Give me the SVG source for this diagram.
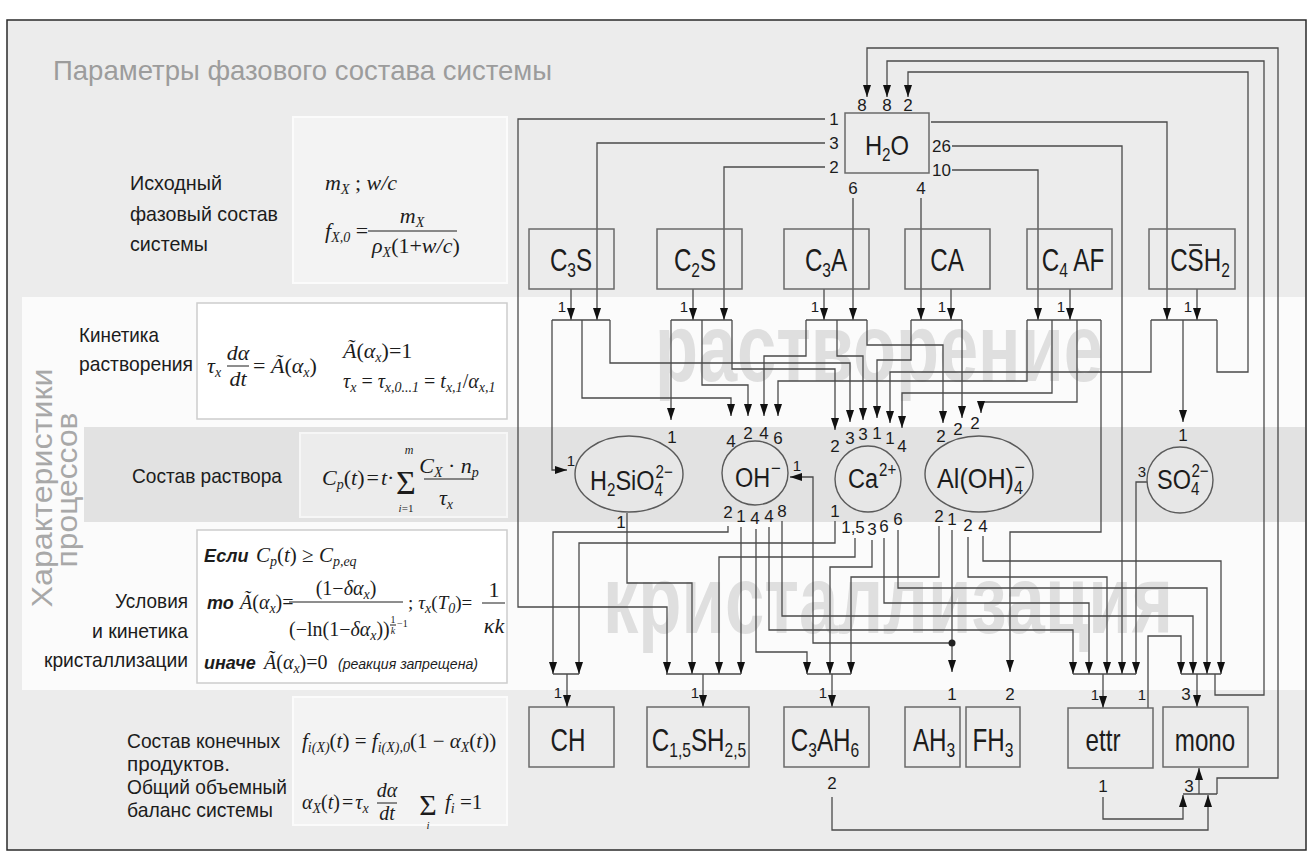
<svg xmlns="http://www.w3.org/2000/svg" width="1314" height="863" viewBox="0 0 1314 863">
<defs>
<style>
.t{font-family:"Liberation Sans",Arial,sans-serif;fill:#1c1c1c}
.nd{font-size:31px}
.sb{font-size:20px}
.pn{font-size:17px;text-anchor:middle}
.ps{font-size:15px;text-anchor:middle}
.lb{font-size:21px}
.gr{fill:#9c9c9c}
.fm{font-family:"Liberation Serif","Times New Roman",serif;font-style:italic;font-size:22px;fill:#1c1c1c}
.up{font-style:normal}
.fs{font-size:14px}
.bi{font-family:"Liberation Sans",Arial,sans-serif;font-weight:bold;font-style:italic;font-size:18px;fill:#1c1c1c}
.bx{fill:none;stroke:#6a6a6a;stroke-width:1.5}
.el{fill:#e7e7e7;stroke:#5a5a5a;stroke-width:1.4}
.ln{fill:none;stroke:#4a4a4a;stroke-width:1.3}
.ar{marker-end:url(#ah)}
.wm{font-family:"Liberation Sans",Arial,sans-serif;font-size:96px;font-weight:bold;fill:#dfdfdf}
.fl{stroke:#1c1c1c;stroke-width:1}
.fb1{fill:#f3f3f3;stroke:#fbfbfb;stroke-width:2}
.fb2{fill:#ffffff;stroke:#cdcdcd;stroke-width:1.5}
.fb3{fill:#ececec;stroke:#f6f6f6;stroke-width:2}
</style>
<marker id="ah" viewBox="0 0 12 8" refX="12" refY="4" markerWidth="12" markerHeight="8" markerUnits="userSpaceOnUse" orient="auto"><path d="M0,0L12,4L0,8z" fill="#111"/></marker>
</defs>

<rect width="1314" height="863" fill="#ffffff"/>
<rect x="7" y="20" width="1299" height="830" fill="#ececec" stroke="#2a2a2a" stroke-width="1.5"/>
<rect x="22" y="297" width="1283" height="393" fill="#fbfbfb"/>
<rect x="84" y="427" width="1221" height="95" fill="#e2e2e2"/>

<!-- watermarks -->
<text class="wm" x="655" y="381" textLength="448" lengthAdjust="spacingAndGlyphs">растворение</text>
<text class="wm" x="603" y="633" textLength="570" lengthAdjust="spacingAndGlyphs">кристаллизация</text>

<!-- title and side captions -->
<text class="t gr" x="53" y="80" font-size="28" textLength="499" lengthAdjust="spacingAndGlyphs">Параметры  фазового состава  системы</text>
<text class="t" style="fill:#a8a8a8" font-size="30" text-anchor="middle" transform="translate(52,488) rotate(-90)" textLength="239" lengthAdjust="spacingAndGlyphs">Характеристики</text>
<text class="t" style="fill:#a8a8a8" font-size="30" text-anchor="middle" transform="translate(77,490) rotate(-90)" textLength="155" lengthAdjust="spacingAndGlyphs">процессов</text>

<g id="labels-left">
<text class="t lb" x="130" y="190" textLength="92" lengthAdjust="spacingAndGlyphs">Исходный</text>
<text class="t lb" x="130" y="221" textLength="148" lengthAdjust="spacingAndGlyphs">фазовый состав</text>
<text class="t lb" x="130" y="251" textLength="78" lengthAdjust="spacingAndGlyphs">системы</text>
<text class="t lb" x="79" y="342" textLength="80" lengthAdjust="spacingAndGlyphs">Кинетика</text>
<text class="t lb" x="79" y="371" textLength="114" lengthAdjust="spacingAndGlyphs">растворения</text>
<text class="t lb" x="132" y="483" textLength="150" lengthAdjust="spacingAndGlyphs">Состав раствора</text>
<text class="t lb" x="115" y="608" textLength="73" lengthAdjust="spacingAndGlyphs">Условия</text>
<text class="t lb" x="92" y="638" textLength="96" lengthAdjust="spacingAndGlyphs">и кинетика</text>
<text class="t lb" x="44" y="667" textLength="144" lengthAdjust="spacingAndGlyphs">кристаллизации</text>
<text class="t lb" x="127" y="748" textLength="153" lengthAdjust="spacingAndGlyphs">Состав конечных</text>
<text class="t lb" x="127" y="771" textLength="103" lengthAdjust="spacingAndGlyphs">продуктов.</text>
<text class="t lb" x="127" y="794" textLength="160" lengthAdjust="spacingAndGlyphs">Общий объемный</text>
<text class="t lb" x="127" y="817" textLength="146" lengthAdjust="spacingAndGlyphs">баланс системы</text>
</g>

<!-- formula boxes -->
<g id="formula-initial">
<rect class="fb1" x="293" y="117" width="214" height="166"/>
<text class="fm" x="325" y="190">m<tspan class="fs" dy="4">X</tspan><tspan class="up" dy="-4"> ;  </tspan>w/c</text>
<text class="fm" x="325" y="238">f<tspan class="fs" dy="4">X,0</tspan><tspan class="up" dy="-4"> =</tspan></text>
<text class="fm" x="412" y="223" text-anchor="middle">m<tspan class="fs" dy="4">X</tspan></text>
<line class="fl" x1="368" y1="231" x2="457" y2="231"/>
<text class="fm" x="372" y="253">ρ<tspan class="fs" dy="4">X</tspan><tspan class="up" dy="-4">(1+</tspan>w/c<tspan class="up">)</tspan></text>
</g>

<g id="formula-dissolution">
<rect class="fb2" x="197" y="303" width="310" height="116"/>
<text class="fm" x="207" y="373">τ<tspan class="fs" dy="4">x</tspan></text>
<text class="fm" x="238" y="360" text-anchor="middle">dα</text>
<line class="fl" x1="227" y1="366" x2="249" y2="366"/>
<text class="fm" x="238" y="386" text-anchor="middle">dt</text>
<text class="fm" x="253" y="373"><tspan class="up">= </tspan>Ã<tspan class="up">(</tspan>α<tspan class="fs" dy="4">x</tspan><tspan class="up" dy="-4">)</tspan></text>
<text class="fm" x="343" y="358">Ã<tspan class="up">(</tspan>α<tspan class="fs" dy="4">x</tspan><tspan class="up" dy="-4">)=1</tspan></text>
<text class="fm" x="343" y="388" style="font-size:20px">τ<tspan class="fs" dy="4">x</tspan><tspan class="up" dy="-4"> = </tspan>τ<tspan class="fs" dy="4">x,0...1</tspan><tspan class="up" dy="-4"> = </tspan>t<tspan class="fs" dy="4">x,1</tspan><tspan class="up" dy="-4">/</tspan>α<tspan class="fs" dy="4">x,1</tspan></text>
</g>

<g id="formula-solution">
<rect class="fb3" x="300" y="433" width="207" height="84"/>
<text class="fm" x="322" y="485">C<tspan class="fs" dy="4">p</tspan><tspan class="up" dy="-4">(</tspan>t<tspan class="up">)</tspan><tspan class="up" dx="2">=</tspan><tspan dx="2">t</tspan><tspan class="up">·</tspan></text>
<text class="fm" x="406" y="494" text-anchor="middle" style="font-size:34px;font-style:normal">Σ</text>
<text class="fm" x="409" y="454" text-anchor="middle" style="font-size:12px">m</text>
<text class="fm" x="406" y="512" text-anchor="middle" style="font-size:11px">i<tspan class="up">=1</tspan></text>
<text class="fm" x="449" y="473" text-anchor="middle">C<tspan class="fs" dy="4">X</tspan><tspan class="up" dy="-4"> · </tspan>n<tspan class="fs" dy="4">p</tspan></text>
<line class="fl" x1="424" y1="479" x2="474" y2="479"/>
<text class="fm" x="446" y="505" text-anchor="middle">τ<tspan class="fs" dy="4">x</tspan></text>
</g>

<g id="formula-crystallization">
<rect class="fb2" x="197" y="530" width="310" height="153"/>
<text class="bi" x="204" y="562">Если</text>
<text class="fm" x="256" y="562" style="font-size:21px">C<tspan class="fs" dy="4">p</tspan><tspan class="up" dy="-4">(</tspan>t<tspan class="up">) ≥ </tspan>C<tspan class="fs" dy="4">p,eq</tspan></text>
<text class="bi" x="207" y="609">то</text>
<text class="fm" x="240" y="609" style="font-size:20px">Ã<tspan class="up">(</tspan>α<tspan class="fs" dy="4">x</tspan><tspan class="up" dy="-4">)=</tspan></text>
<text class="fm" x="346" y="595" text-anchor="middle" style="font-size:20px"><tspan class="up">(1−</tspan>δα<tspan class="fs" dy="4">x</tspan><tspan class="up" dy="-4">)</tspan></text>
<line class="fl" x1="289" y1="602" x2="403" y2="602"/>
<text class="fm" x="289" y="636" style="font-size:20px"><tspan class="up">(−ln(1−</tspan>δα<tspan class="fs" dy="4">x</tspan><tspan class="up" dy="-4">))</tspan></text>
<text class="fm" x="393" y="623" text-anchor="middle" style="font-size:10px;font-style:normal">1</text>
<line class="fl" x1="390" y1="625" x2="396" y2="625"/>
<text class="fm" x="393" y="634" text-anchor="middle" style="font-size:10px">k</text>
<text class="fm" x="397" y="627" style="font-size:10px;font-style:normal">−1</text>
<text class="fm" x="408" y="609" style="font-size:19px"><tspan class="up">;</tspan><tspan dx="5">τ</tspan><tspan class="fs" dy="4">x</tspan><tspan class="up" dy="-4">(</tspan>T<tspan class="fs" dy="4">0</tspan><tspan class="up" dy="-4">)=</tspan></text>
<text class="fm" x="494" y="597" text-anchor="middle" style="font-style:normal">1</text>
<line class="fl" x1="482" y1="603" x2="505" y2="603"/>
<text class="fm" x="494" y="633" text-anchor="middle">κk</text>
<text class="bi" x="204" y="669">иначе</text>
<text class="fm" x="264" y="669" style="font-size:20px">Ã<tspan class="up">(</tspan>α<tspan class="fs" dy="4">x</tspan><tspan class="up" dy="-4">)=0</tspan></text>
<text class="t" x="338" y="669" style="font-size:15px;font-style:italic" textLength="140" lengthAdjust="spacingAndGlyphs">(реакция запрещена)</text>
</g>

<g id="formula-balance">
<rect class="fb1" x="293" y="697" width="214" height="128"/>
<text class="fm" x="302" y="748" style="font-size:21px">f<tspan class="fs" dy="4">i(X)</tspan><tspan class="up" dy="-4">(</tspan>t<tspan class="up">) = </tspan>f<tspan class="fs" dy="4">i(X),0</tspan><tspan class="up" dy="-4">(1 − </tspan>α<tspan class="fs" dy="4">X</tspan><tspan class="up" dy="-4">(</tspan>t<tspan class="up">))</tspan></text>
<text class="fm" x="302" y="809" style="font-size:20px">α<tspan class="fs" dy="4">X</tspan><tspan class="up" dy="-4">(</tspan>t<tspan class="up">)</tspan><tspan class="up" dx="2">=</tspan><tspan dx="2">τ</tspan><tspan class="fs" dy="4">x</tspan></text>
<text class="fm" x="387" y="797" text-anchor="middle" style="font-size:20px">dα</text>
<line class="fl" x1="377" y1="803" x2="397" y2="803"/>
<text class="fm" x="387" y="820" text-anchor="middle" style="font-size:20px">dt</text>
<text class="fm" x="428" y="815" text-anchor="middle" style="font-size:30px;font-style:normal">Σ</text>
<text class="fm" x="428" y="829" text-anchor="middle" style="font-size:11px">i</text>
<text class="fm" x="445" y="809" style="font-size:21px">f<tspan class="fs" dy="4">i</tspan><tspan class="up" dy="-4"> =1</tspan></text>
</g>

<!-- connectors -->
<g id="connectors">
<g class="ln ar">
<path d="M825,119H518V607H667V674"/>
<path d="M825,143H597V320"/>
<path d="M825,167H724V320"/>
<path d="M853,198V320"/>
<path d="M921,198V320"/>
<path d="M952,146H1122V674"/>
<path d="M952,170H1038V320"/>
<path d="M931,122H1167V320"/>
<path d="M571,289V320"/>
<path d="M693,289V320"/>
<path d="M824,289V320"/>
<path d="M951,289V320"/>
<path d="M1070,289V320"/>
<path d="M1197,289V320"/>
<path d="M552,320V470H567"/>
<path d="M582,320V398H731V416"/>
<path d="M610,320V363H850V422"/>
<path d="M671,320V420"/>
<path d="M702,320V385H748V416"/>
<path d="M732,320V369H835V430"/>
<path d="M806,320V356H764V416"/>
<path d="M837,320V356H863V420"/>
<path d="M867,320V345H943V423"/>
<path d="M911,320V360H877V418"/>
<path d="M962,320V418"/>
<path d="M1027,320V381H778V416"/>
<path d="M1052,320V393H902V428"/>
<path d="M1077,320V402H981V413"/>
<path d="M1101,320V532H1010V672"/>
<path d="M1151,320V372H890V423"/>
<path d="M1183,320V422"/>
<path d="M1217,320V372H1248V72H908V97"/>
<path d="M627,513V583H692V674"/>
<path d="M728,526V532H553V674"/>
<path d="M741,527V674"/>
<path d="M756,529V652H807V674"/>
<path d="M769,527V630H1073V674"/>
<path d="M782,521V616H1193V674"/>
<path d="M835,521V543H579V674"/>
<path d="M855,538V557H719V674"/>
<path d="M872,540V567H830V674"/>
<path d="M884,538V603H1089V674"/>
<path d="M898,530V588H1207V674"/>
<path d="M939,526V577H851V674"/>
<path d="M952,530V672"/>
<path d="M952,643H813V477H790"/>
<path d="M968,537V577H1107V674"/>
<path d="M983,536V561H1221V674"/>
<path d="M1147,482H1136V674"/>
<path d="M1148,708V636H1181V674"/>
<path d="M567,674V707"/>
<path d="M703,674V707"/>
<path d="M832,674V707"/>
<path d="M1103,674V708"/>
<path d="M1197,674V707"/>
<path d="M1215,674V695H1264V61H887V97"/>
<path d="M832,797V830H1208V795"/>
<path d="M1103,797V819H1183V795"/>
<path d="M1217,794V778H1278V48H867V97"/>
<path d="M1199,794V768"/>
</g>
<g class="ln">
<path d="M552,320H610M671,320H732M806,320H867M911,320H962M1027,320H1101M1151,320H1217"/>
<path d="M553,674H579M666,674H741M807,674H851M1073,674H1136M1181,674H1221M1183,794H1217"/>
</g>
<circle cx="952" cy="643" r="3.5" fill="#222"/>
<g class="t">
<text class="pn" x="834" y="125">1</text>
<text class="pn" x="834" y="149">3</text>
<text class="pn" x="834" y="173">2</text>
<text class="pn" x="853" y="194">6</text>
<text class="pn" x="921" y="194">4</text>
<text class="t" x="932" y="152" font-size="17">26</text>
<text class="t" x="932" y="176" font-size="17">10</text>
<text class="pn" x="862" y="111">8</text>
<text class="pn" x="887" y="111">8</text>
<text class="pn" x="908" y="111">2</text>
<text class="ps" x="562" y="312">1</text>
<text class="ps" x="684" y="312">1</text>
<text class="ps" x="815" y="312">1</text>
<text class="ps" x="942" y="312">1</text>
<text class="ps" x="1061" y="312">1</text>
<text class="ps" x="1188" y="312">1</text>
<text class="ps" x="571" y="466">1</text>
<text class="pn" x="672" y="443">1</text>
<text class="pn" x="731" y="447">4</text>
<text class="pn" x="748" y="439">2</text>
<text class="pn" x="764" y="439">4</text>
<text class="pn" x="778" y="444">6</text>
<text class="ps" x="797" y="471">1</text>
<text class="pn" x="835" y="452">2</text>
<text class="pn" x="850" y="444">3</text>
<text class="pn" x="863" y="440">3</text>
<text class="pn" x="877" y="439">1</text>
<text class="pn" x="890" y="444">1</text>
<text class="pn" x="902" y="452">4</text>
<text class="pn" x="941" y="442">2</text>
<text class="pn" x="958" y="435">2</text>
<text class="pn" x="975" y="429">2</text>
<text class="pn" x="1183" y="441">1</text>
<text class="ps" x="1142" y="477">3</text>
<text class="pn" x="621" y="528">1</text>
<text class="pn" x="728" y="518">2</text>
<text class="pn" x="741" y="522">1</text>
<text class="pn" x="755" y="524">4</text>
<text class="pn" x="769" y="522">4</text>
<text class="pn" x="782" y="517">8</text>
<text class="pn" x="835" y="517">1</text>
<text class="pn" x="853" y="533">1,5</text>
<text class="pn" x="872" y="535">3</text>
<text class="pn" x="884" y="532">6</text>
<text class="pn" x="898" y="525">6</text>
<text class="pn" x="939" y="522">2</text>
<text class="pn" x="952" y="525">1</text>
<text class="pn" x="968" y="531">2</text>
<text class="pn" x="983" y="532">4</text>
<text class="ps" x="558" y="698">1</text>
<text class="ps" x="695" y="698">1</text>
<text class="ps" x="823" y="698">1</text>
<text class="ps" x="1095" y="700">1</text>
<text class="ps" x="1142" y="700">1</text>
<text class="pn" x="1186" y="700">3</text>
<text class="pn" x="952" y="700">1</text>
<text class="pn" x="1010" y="700">2</text>
<text class="pn" x="832" y="789">2</text>
<text class="pn" x="1103" y="792">1</text>
<text class="pn" x="1189" y="792">3</text>
</g>
</g>

<!-- nodes -->
<g id="n-H2O"><rect class="bx" x="845" y="113" width="84" height="60"/>
<g transform="translate(887,155) scale(0.85,1)"><text class="t" font-size="28" text-anchor="middle">H<tspan font-size="18" dy="6">2</tspan><tspan dy="-6">O</tspan></text></g></g>
<g id="n-C3S"><rect class="bx" x="529" y="229" width="85" height="60"/>
<g transform="translate(571,271) scale(0.78,1)"><text class="t nd" text-anchor="middle">C<tspan class="sb" dy="6">3</tspan><tspan dy="-6">S</tspan></text></g></g>
<g id="n-C2S"><rect class="bx" x="657" y="229" width="85" height="60"/>
<g transform="translate(695,271) scale(0.78,1)"><text class="t nd" text-anchor="middle">C<tspan class="sb" dy="6">2</tspan><tspan dy="-6">S</tspan></text></g></g>
<g id="n-C3A"><rect class="bx" x="784" y="229" width="85" height="60"/>
<g transform="translate(826,271) scale(0.78,1)"><text class="t nd" text-anchor="middle">C<tspan class="sb" dy="6">3</tspan><tspan dy="-6">A</tspan></text></g></g>
<g id="n-CA"><rect class="bx" x="905" y="229" width="85" height="60"/>
<g transform="translate(947,271) scale(0.78,1)"><text class="t nd" text-anchor="middle">CA</text></g></g>
<g id="n-C4AF"><rect class="bx" x="1027" y="229" width="85" height="60"/>
<g transform="translate(1073,271) scale(0.78,1)"><text class="t nd" text-anchor="middle">C<tspan class="sb" dy="6">4</tspan><tspan dy="-6"> AF</tspan></text></g></g>
<g id="n-CSH2"><rect class="bx" x="1149" y="229" width="86" height="60"/>
<g transform="translate(1200,271) scale(0.78,1)"><text class="t nd" text-anchor="middle">CSH<tspan class="sb" dy="6">2</tspan></text></g>
<line x1="1189" y1="245" x2="1202" y2="245" stroke="#1c1c1c" stroke-width="1.6"/></g>

<g id="n-H2SiO4"><ellipse class="el" cx="629" cy="474" rx="54" ry="38"/>
<g transform="translate(590,490) scale(0.84,1)"><text class="t" font-size="28">H<tspan font-size="18" dy="6">2</tspan><tspan dy="-6">SiO</tspan><tspan font-size="18" dy="6">4</tspan></text><text class="t" font-size="18" x="78" y="-12">2−</text></g></g>
<g id="n-OH"><ellipse class="el" cx="755" cy="473" rx="33" ry="32"/>
<g transform="translate(735,487) scale(0.84,1)"><text class="t" font-size="28">OH</text><text class="t" font-size="20" x="43" y="-12">−</text></g></g>
<g id="n-Ca"><ellipse class="el" cx="868" cy="479" rx="33" ry="33"/>
<g transform="translate(848,488) scale(0.84,1)"><text class="t" font-size="28">Ca</text><text class="t" font-size="18" x="37" y="-12">2+</text></g></g>
<g id="n-AlOH4"><ellipse class="el" cx="979" cy="474" rx="54" ry="38"/>
<g transform="translate(937,488) scale(0.9,1)"><text class="t" font-size="28">Al(OH)<tspan font-size="18" dy="6">4</tspan></text><text class="t" font-size="20" x="86" y="-14">−</text></g></g>
<g id="n-SO4"><ellipse class="el" cx="1180" cy="480" rx="33" ry="33"/>
<g transform="translate(1157,489) scale(0.84,1)"><text class="t" font-size="28">SO<tspan font-size="18" dy="6">4</tspan></text><text class="t" font-size="18" x="41" y="-12">2−</text></g></g>

<g id="n-CH"><rect class="bx" x="529" y="707" width="85" height="60"/>
<g transform="translate(568,751) scale(0.78,1)"><text class="t nd" text-anchor="middle">CH</text></g></g>
<g id="n-CSH"><rect class="bx" x="647" y="707" width="102" height="60"/>
<g transform="translate(699,751) scale(0.78,1)"><text class="t nd" text-anchor="middle">C<tspan class="sb" dy="6">1,5</tspan><tspan dy="-6">SH</tspan><tspan class="sb" dy="6">2,5</tspan></text></g></g>
<g id="n-C3AH6"><rect class="bx" x="784" y="707" width="85" height="60"/>
<g transform="translate(825,751) scale(0.78,1)"><text class="t nd" text-anchor="middle">C<tspan class="sb" dy="6">3</tspan><tspan dy="-6">AH</tspan><tspan class="sb" dy="6">6</tspan></text></g></g>
<g id="n-AH3"><rect class="bx" x="905" y="707" width="55" height="60"/>
<g transform="translate(934,751) scale(0.78,1)"><text class="t nd" text-anchor="middle">AH<tspan class="sb" dy="6">3</tspan></text></g></g>
<g id="n-FH3"><rect class="bx" x="966" y="707" width="54" height="60"/>
<g transform="translate(993,751) scale(0.78,1)"><text class="t nd" text-anchor="middle">FH<tspan class="sb" dy="6">3</tspan></text></g></g>
<g id="n-ettr"><rect class="bx" x="1068" y="708" width="85" height="60"/>
<g transform="translate(1103,751) scale(0.78,1)"><text class="t nd" text-anchor="middle">ettr</text></g></g>
<g id="n-mono"><rect class="bx" x="1163" y="707" width="85" height="60"/>
<g transform="translate(1205,751) scale(0.78,1)"><text class="t nd" text-anchor="middle">mono</text></g></g>
</svg>
